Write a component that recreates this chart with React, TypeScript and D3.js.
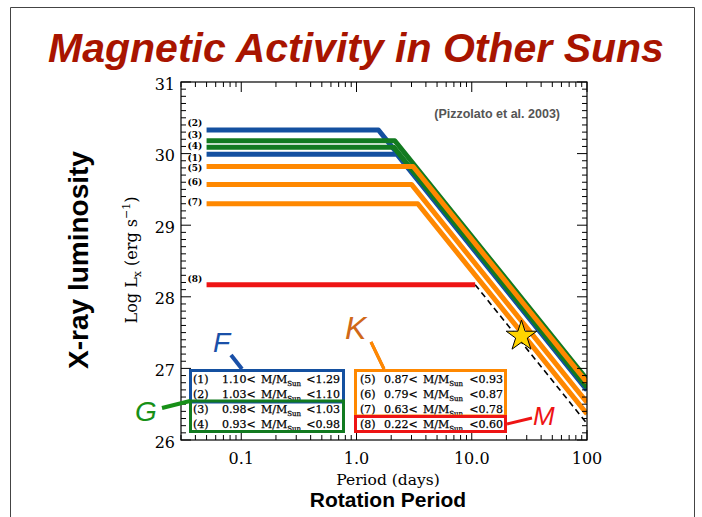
import React, { useRef, useEffect } from 'react';
import * as d3 from 'd3';

// mass bins (Pizzolato et al. 2003)
const binLabels = ['(1)', '(2)', '(3)', '(4)', '(5)', '(6)', '(7)', '(8)'];
const massLow = ['1.10', '1.03', '0.98', '0.93', '0.87', '0.79', '0.63', '0.22'];
const massHigh = ['1.29', '1.10', '1.03', '0.98', '0.93', '0.87', '0.78', '0.60'];
// saturated log Lx and saturation period (days)
const satLevel = [29.99, 30.33, 30.18, 30.09, 29.82, 29.57, 29.3, 28.17];
const satPeriod = [2.25, 1.55, 2.15, 2.1, 3.1, 3.0, 3.4, 10.7];
const powerSlope = -2;
const periodStart = 0.05;
const periodEnd = 100;
const sunPeriod = 27;
const sunLum = 27.45;
const xTicks = [0.1, 1, 10, 100];
const xTickLabels = ['0.1', '1.0', '10.0', '100'];
const yTicks = [26, 27, 28, 29, 30, 31];

const BLUE = '#1450a0';
const GREEN = '#127a20';
const ORANGE = '#ff8800';
const RED = '#ee1414';
const lineColors = [BLUE, BLUE, GREEN, GREEN, ORANGE, ORANGE, ORANGE, RED];
const labelNudge = [3.5, -7, -5.5, -1.5, 1.5, -2, -2, -6];

const W = 702, H = 517;
const m = { left: 181, right: 587, top: 82, bottom: 440 };
const serif = '"DejaVu Serif", serif';
const sans = '"Liberation Sans", Arial, sans-serif';

const Chart = () => {
  const svgRef = useRef<SVGSVGElement>(null);
  useEffect(() => {
    const svg = d3.select(svgRef.current);
    svg.selectAll('*').remove();

    const x = d3.scaleLog().domain([0.03, 100]).range([m.left, m.right]);
    const y = d3.scaleLinear().domain([26, 31]).range([m.bottom, m.top]);

    // slide frame
    svg.append('path')
      .attr('d', `M10.5,${H} V7.5 H694.5 V${H}`)
      .attr('fill', 'none').attr('stroke', '#444').attr('stroke-width', 1);

    svg.append('text')
      .attr('x', 356).attr('y', 62)
      .attr('text-anchor', 'middle')
      .attr('font-family', sans).attr('font-weight', 'bold').attr('font-style', 'italic')
      .attr('font-size', 41).attr('fill', '#a81400')
      .text('Magnetic Activity in Other Suns');

    svg.append('clipPath').attr('id', 'plotclip')
      .append('rect')
      .attr('x', m.left).attr('y', m.top)
      .attr('width', m.right - m.left).attr('height', m.bottom - m.top);

    const g = svg.append('g').attr('clip-path', 'url(#plotclip)');
    const lineGen = d3.line<[number, number]>().x(d => x(d[0])).y(d => y(d[1]));
    const lumAt = (i: number, p: number) =>
      satLevel[i] + powerSlope * (Math.log10(p) - Math.log10(satPeriod[i]));

    satLevel.forEach((lv, i) => {
      if (i === 7) return;
      const pts: [number, number][] = [[periodStart, lv], [satPeriod[i], lv], [periodEnd, lumAt(i, periodEnd)]];
      g.append('path').attr('d', lineGen(pts)!)
        .attr('fill', 'none').attr('stroke', lineColors[i])
        .attr('stroke-width', 5).attr('stroke-linejoin', 'round');
    });
    // bin 8: saturated part solid, decay dashed
    g.append('path')
      .attr('d', lineGen([[satPeriod[7], satLevel[7]], [periodEnd, lumAt(7, periodEnd)]])!)
      .attr('fill', 'none').attr('stroke', '#000')
      .attr('stroke-width', 1.6).attr('stroke-dasharray', '6,4');
    g.append('path')
      .attr('d', lineGen([[periodStart, satLevel[7]], [satPeriod[7], satLevel[7]]])!)
      .attr('fill', 'none').attr('stroke', RED).attr('stroke-width', 5);

    binLabels.forEach((lb, i) => {
      svg.append('text')
        .attr('x', x(periodStart) - 19).attr('y', y(satLevel[i]) + labelNudge[i])
        .attr('dominant-baseline', 'central')
        .attr('font-family', serif).attr('font-weight', 'bold').attr('font-size', 9)
        .text(lb);
    });

    // sun
    svg.append('path')
      .attr('d', d3.symbol().type(d3.symbolStar).size(290)()!)
      .attr('transform', `translate(${x(sunPeriod)},${y(sunLum)})`)
      .attr('fill', '#ffd400').attr('stroke', '#000').attr('stroke-width', 1);

    svg.append('text')
      .attr('x', 560).attr('y', 118).attr('text-anchor', 'end')
      .attr('font-family', sans).attr('font-weight', 'bold').attr('font-size', 12.5)
      .attr('fill', '#555')
      .text('(Pizzolato et al. 2003)');

    // frame + ticks
    svg.append('rect')
      .attr('x', m.left).attr('y', m.top)
      .attr('width', m.right - m.left).attr('height', m.bottom - m.top)
      .attr('fill', 'none').attr('stroke', '#000').attr('stroke-width', 1.2);

    const ax = svg.append('g').attr('stroke', '#000').attr('stroke-width', 1);
    y.ticks(50).forEach(t => {
      const major = Math.abs(t - Math.round(t)) < 1e-6;
      const len = major ? 10 : 5;
      ax.append('line').attr('x1', m.left).attr('x2', m.left + len).attr('y1', y(t)).attr('y2', y(t));
      ax.append('line').attr('x1', m.right).attr('x2', m.right - len).attr('y1', y(t)).attr('y2', y(t));
    });
    x.ticks().forEach(t => {
      const lg = Math.log10(t);
      const major = Math.abs(lg - Math.round(lg)) < 1e-6;
      const len = major ? 10 : 5;
      ax.append('line').attr('y1', m.bottom).attr('y2', m.bottom - len).attr('x1', x(t)).attr('x2', x(t));
      ax.append('line').attr('y1', m.top).attr('y2', m.top + len).attr('x1', x(t)).attr('x2', x(t));
    });

    yTicks.forEach(t => {
      svg.append('text')
        .attr('x', m.left - 6).attr('y', y(t) + 2)
        .attr('text-anchor', 'end').attr('dominant-baseline', 'central')
        .attr('font-family', serif).attr('font-size', 16)
        .text(t);
    });
    xTicks.forEach((t, i) => {
      svg.append('text')
        .attr('x', x(t)).attr('y', m.bottom + 24)
        .attr('text-anchor', 'middle')
        .attr('font-family', serif).attr('font-size', 16)
        .text(xTickLabels[i]);
    });

    svg.append('text')
      .attr('x', 388).attr('y', 485).attr('text-anchor', 'middle')
      .attr('font-family', serif).attr('font-size', 15.5)
      .text('Period (days)');
    svg.append('text')
      .attr('x', 388).attr('y', 507).attr('text-anchor', 'middle')
      .attr('font-family', sans).attr('font-weight', 'bold').attr('font-size', 21)
      .text('Rotation Period');

    const yt = svg.append('text')
      .attr('transform', 'translate(137,260) rotate(-90)')
      .attr('text-anchor', 'middle')
      .attr('font-family', serif).attr('font-size', 16);
    yt.append('tspan').text('Log L');
    yt.append('tspan').attr('font-size', 11).attr('dy', 4).text('x');
    yt.append('tspan').attr('dy', -4).text(' (erg s');
    yt.append('tspan').attr('font-size', 11).attr('dy', -7).text('−1');
    yt.append('tspan').attr('dy', 7).text(')');

    svg.append('text')
      .attr('transform', 'translate(88,260) rotate(-90)')
      .attr('text-anchor', 'middle')
      .attr('font-family', sans).attr('font-weight', 'bold').attr('font-size', 28)
      .text('X-ray luminosity');

    // legend boxes
    const box = (x0: number, y0: number, x1: number, y1: number, c: string) =>
      svg.append('rect').attr('x', x0).attr('y', y0).attr('width', x1 - x0).attr('height', y1 - y0)
        .attr('fill', 'none').attr('stroke', c).attr('stroke-width', 3);
    svg.append('rect').attr('x', 190).attr('y', 370).attr('width', 154).attr('height', 62).attr('fill', '#fff');
    svg.append('rect').attr('x', 356).attr('y', 370).attr('width', 150).attr('height', 62).attr('fill', '#fff');

    const rowY = [383, 398, 413, 427.5];
    binLabels.forEach((lb, i) => {
      const left = i < 4;
      const ry = rowY[i % 4];
      const x0 = left ? 193 : 360;
      const off = left ? 29 : 24;
      const t = svg.append('text')
        .attr('y', ry).attr('font-family', serif).attr('font-size', 11)
        .attr('stroke', '#000').attr('stroke-width', 0.25);
      t.append('tspan').attr('x', x0).text(lb);
      t.append('tspan').attr('x', x0 + off).text(massLow[i] + '<');
      t.append('tspan').attr('x', x0 + off + 39).text('M/M');
      t.append('tspan').attr('font-size', 7).attr('dy', 3).text('Sun');
      svg.append('text')
        .attr('x', left ? 340 : 503).attr('y', ry).attr('text-anchor', 'end')
        .attr('font-family', serif).attr('font-size', 11)
        .attr('stroke', '#000').attr('stroke-width', 0.25)
        .text('<' + massHigh[i]);
    });

    box(190.5, 370.5, 343.5, 402, BLUE);
    box(190.5, 401, 343.5, 431.5, GREEN);
    box(355.5, 370.5, 505.5, 416, ORANGE);
    box(355.5, 416.5, 505.5, 431.5, RED);

    // class annotations
    const note = (txt: string, tx: number, ty: number, size: number, c: string, l: number[], lw: number) => {
      svg.append('line').attr('x1', l[0]).attr('y1', l[1]).attr('x2', l[2]).attr('y2', l[3])
        .attr('stroke', c).attr('stroke-width', lw);
      svg.append('text').attr('x', tx).attr('y', ty)
        .attr('font-family', sans).attr('font-style', 'italic').attr('font-size', size)
        .attr('fill', c).text(txt);
    };
    note('F', 213, 352, 28, '#1a50a8', [231, 355, 242, 369], 4);
    note('G', 135, 421, 28, '#179017', [162, 408, 190, 401], 4);
    note('K', 345, 339, 32, '#d06818', [371, 342, 384, 369], 3);
    svg.append('line').attr('x1', 371).attr('y1', 342).attr('x2', 384).attr('y2', 369)
      .attr('stroke', ORANGE).attr('stroke-width', 3);
    note('M', 533, 425, 26, RED, [507, 424, 532, 418], 3);
  }, []);

  return <svg ref={svgRef} width={W} height={H} style={{ position: 'absolute', left: 0, top: 0, background: '#fff' }} />;
};

export default function App() {
  return <Chart />;
}
